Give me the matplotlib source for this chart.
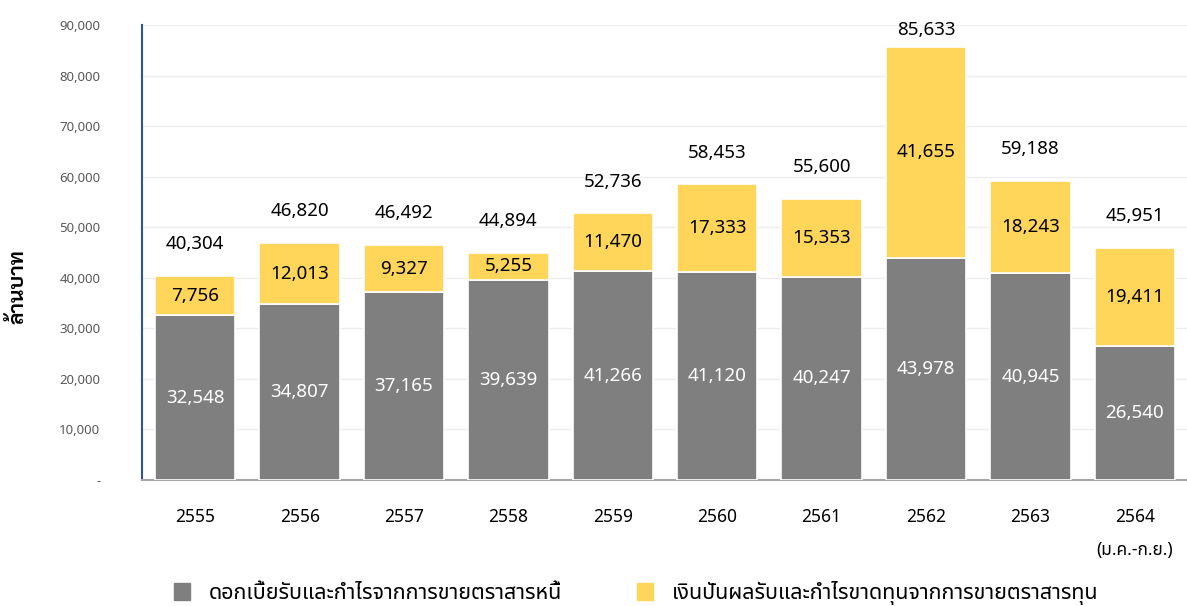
import matplotlib
matplotlib.use("Agg")
import numpy as np
import matplotlib.pyplot as plt
from matplotlib.patches import Patch

plt.rcParams['font.family'] = ['Noto Sans', 'Noto Sans Thai']

years = ["2555", "2556", "2557", "2558", "2559", "2560", "2561", "2562", "2563", "2564\n(ม.ค.-ก.ย.)"]
debt = [32548, 34807, 37165, 39639, 41266, 41120, 40247, 43978, 40945, 26540]
equity = [7756, 12013, 9327, 5255, 11470, 17333, 15353, 41655, 18243, 19411]
totals = [40304, 46820, 46492, 44894, 52736, 58453, 55600, 85633, 59188, 45951]

label_debt = "ดอกเบี้ยรับและกำไรจากการขายตราสารหนี้"
label_equity = "เงินปันผลรับและกำไรขาดทุนจากการขายตราสารทุน"

grey = "#7f7f7f"
yellow = "#ffd55a"

fig = plt.figure(figsize=(11.87, 6.06), dpi=100)
ax = fig.add_axes([142/1187, 1-480/606, 1045/1187, 455/606])

x = np.arange(len(years))
w = 0.77
ax.bar(x, debt, w, color=grey, edgecolor="white", linewidth=1.2, zorder=3)
ax.bar(x, equity, w, bottom=debt, color=yellow, edgecolor="white", linewidth=1.2, zorder=3)

for i in range(len(years)):
    ax.text(x[i], debt[i]/2, f"{debt[i]:,}", ha="center", va="center",
            color="white", fontsize=13.5, zorder=4)
    ax.text(x[i], debt[i] + equity[i]/2, f"{equity[i]:,}", ha="center", va="center",
            color="black", fontsize=13.5, zorder=4)
    ax.text(x[i], min(totals[i] + 6300, 89000), f"{totals[i]:,}", ha="center", va="center",
            color="black", fontsize=13.5, zorder=4)

ax.set_xlim(-0.51, 9.5)
ax.set_ylim(0, 90000)
ax.set_yticks(np.arange(0, 90001, 10000))
ax.set_yticklabels(["-"] + [f"{v:,}" for v in range(10000, 90001, 10000)])
ax.set_xticks(x)
ax.set_xticklabels(years, linespacing=2.1)

ax.tick_params(axis="y", length=0, pad=30, labelsize=9.5, labelcolor="#595959")
ax.tick_params(axis="x", length=0, pad=20, labelsize=12.5, labelcolor="black")

ax.grid(axis="y", color="#eeeeee", linewidth=1, zorder=0)
ax.set_axisbelow(True)
for s in ["top", "right"]:
    ax.spines[s].set_visible(False)
ax.spines["left"].set_color("#2f5597")
ax.spines["left"].set_linewidth(1.5)
ax.spines["bottom"].set_color("#a6a6a6")
ax.spines["bottom"].set_linewidth(1.5)

fig.text(18/1187, 1-287/606, "ล้านบาท", rotation=90, ha="center", va="center",
         fontsize=15, fontweight="bold", family=["Sarabun", "Noto Sans Thai"])

handles = [Patch(color=grey, label=label_debt), Patch(color=yellow, label=label_equity)]
fig.legend(handles=handles, loc="center left", bbox_to_anchor=(174/1187, 1-593/606),
           ncol=2, frameon=False, fontsize=15.5, handlelength=0.75, handleheight=0.85,
           handletextpad=0.85, columnspacing=3.5, borderpad=0, borderaxespad=0)

fig.savefig("out.png", dpi=100)
